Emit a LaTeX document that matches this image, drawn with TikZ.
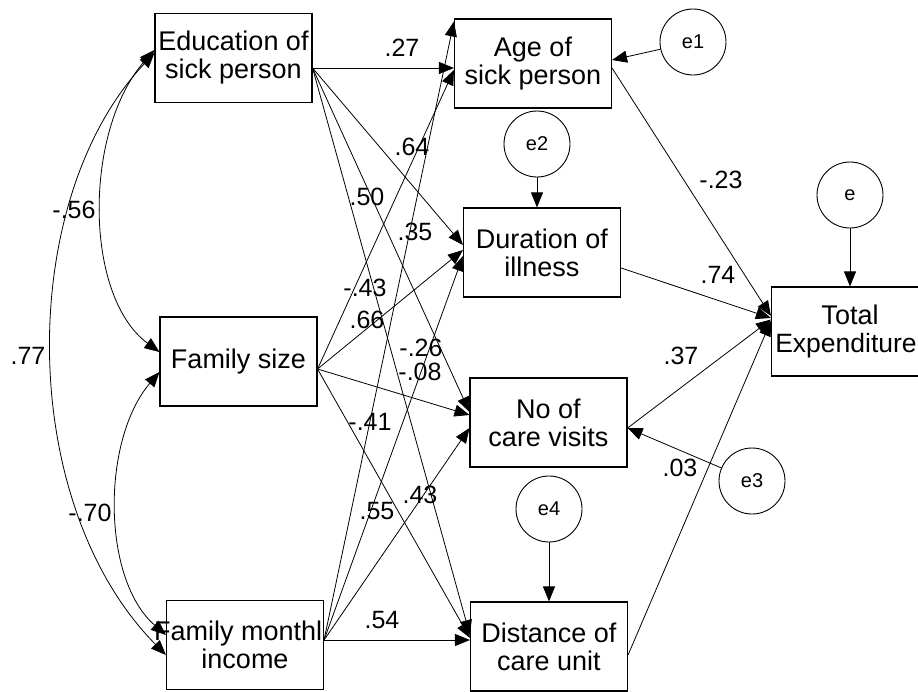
\documentclass[tikz,border=0pt]{standalone}
\usepackage{fontspec}
\setmainfont{Liberation Sans}
\usetikzlibrary{arrows.meta,calc}
\begin{document}
\begin{tikzpicture}[x=1pt,y=-1pt,
  box/.style={draw,line width=1.1pt,minimum width=157pt,minimum height=89pt,inner sep=0pt,align=center,font=\fontsize{27}{28}\selectfont},
  err/.style={draw,circle,line width=0.9pt,minimum size=66pt,inner sep=0pt,font=\fontsize{20}{22}\selectfont},
  pth/.style={line width=0.8pt,-{Triangle[length=15pt,width=12pt]}},
  covar/.style={line width=0.8pt,{Triangle[length=15pt,width=12pt]}-{Triangle[length=15pt,width=12pt]}},
  lab/.style={inner sep=0pt,font=\fontsize{25}{27}\selectfont}]
\useasboundingbox (0,0) rectangle (918,691);
% boxes
\node[box] (edu) at (233.5,58) {Education of\\sick person};
\node[box] (fam) at (238.5,361.5) {Family size};
\node[box] (inc) at (245,645) {\makebox[0pt][c]{Family monthl\phantom{y}}\\income};
\node[box] (age) at (533,63.5) {Age of\\sick person};
\node[box] (dur) at (542,252.5) {Duration of\\illness};
\node[box] (nov) at (548.5,422.5) {No of\\care visits};
\node[box] (dist) at (549,646.5) {Distance of\\care unit};
\node[box] (te) at (850,331.5) {Total\\\makebox[0pt][c]{\fontsize{26.5}{28}\selectfont Expenditure\hspace{8pt}}};
% error terms
\node[err] (e1) at (693,42) {e1};
\node[err] (e2) at (537,144) {e2};
\node[err] (e) at (850,195) {e};
\node[err] (e3) at (752,481) {e3};
\node[err] (e4) at (549,509) {e4};
% paths from Education
\draw[pth] ([yshift=-10pt]edu.east) -- ([yshift=-4.5pt]age.west);
\draw[pth] ([yshift=-10pt]edu.east) -- ([yshift=7.5pt]dur.west);
\draw[pth] ([yshift=-10pt]edu.east) -- ([yshift=10.5pt]nov.west);
\draw[pth] ([yshift=-10pt]edu.east) -- ([yshift=11.5pt]dist.west);
% paths from Family size
\draw[pth] ([yshift=-7.5pt]fam.east) -- ([yshift=-6.5pt]age.west);
\draw[pth] ([yshift=-7.5pt]fam.east) -- ([yshift=2.5pt]dur.west);
\draw[pth] ([yshift=-7.5pt]fam.east) -- ([yshift=7.5pt]nov.west);
\draw[pth] ([yshift=-7.5pt]fam.east) -- ([yshift=8.5pt]dist.west);
% paths from Family monthly income
\draw[pth] ([yshift=5pt]inc.east) -- ([yshift=-3pt]age.north west);
\draw[pth] ([yshift=5pt]inc.east) -- ([yshift=-3.5pt]dur.west);
\draw[pth] ([yshift=5pt]inc.east) -- ([yshift=-5.5pt]nov.west);
\draw[pth] ([yshift=5pt]inc.east) -- ([yshift=6.5pt]dist.west);
% paths to Total Expenditure
\draw[pth] ([yshift=-4.5pt]age.east) -- ([yshift=15.5pt]te.west);
\draw[pth] ([yshift=-15.5pt]dur.east) -- ([yshift=13.5pt]te.west);
\draw[pth] ([yshift=-5.5pt]nov.east) -- ([yshift=12pt]te.west);
\draw[pth] ([yshift=-8.5pt]dist.east) -- ([yshift=10.5pt]te.west);
% error arrows
\draw[pth] (e1) -- ([yshift=3.5pt]age.east);
\draw[pth] (e2) -- (e2 |- dur.north);
\draw[pth] (e) -- (te);
\draw[pth] (e3) -- ([yshift=-5.5pt]nov.east);
\draw[pth] (e4) -- (dist);
% covariances
\draw[covar] ([yshift=8pt]edu.west) .. controls (83.5,130) and (83.5,296) .. ([yshift=9.5pt]fam.west);
\draw[covar] ([yshift=5pt]edu.west) .. controls (16,200) and (16,503) .. ([yshift=-10pt]inc.west);
\draw[covar] ([yshift=-10.5pt]fam.west) .. controls (101.5,440) and (101.5,579) .. ([yshift=10pt]inc.west);
% labels
\node[lab] (l27) at (402,48) {.27};
\node[lab] (l64) at (412,147) {.64};
\node[lab] (l50) at (367,197) {.50};
\node[lab] (l35) at (415,232) {.35};
\node[lab] (l43a) at (365,288) {-.43};
\node[lab] (l66) at (367,320) {.66};
\node[lab] (l26) at (421,348) {-.26};
\node[lab] (l08) at (420,372) {-.08};
\node[lab] (l41) at (370,422) {-.41};
\node[lab] (l55) at (377,511) {.55};
\node[lab] (l43b) at (420,495) {.43};
\node[lab] (l54) at (382,620) {.54};
\node[lab] (l56) at (74,210) {-.56};
\node[lab] (l77) at (28,356) {.77};
\node[lab] (l70) at (90,513) {-.70};
\node[lab] (l23) at (721,180) {-.23};
\node[lab] (l74) at (718,275) {.74};
\node[lab] (l37) at (681,356) {.37};
\node[lab] (l03) at (680,468) {.03};
\end{tikzpicture}
\end{document}
